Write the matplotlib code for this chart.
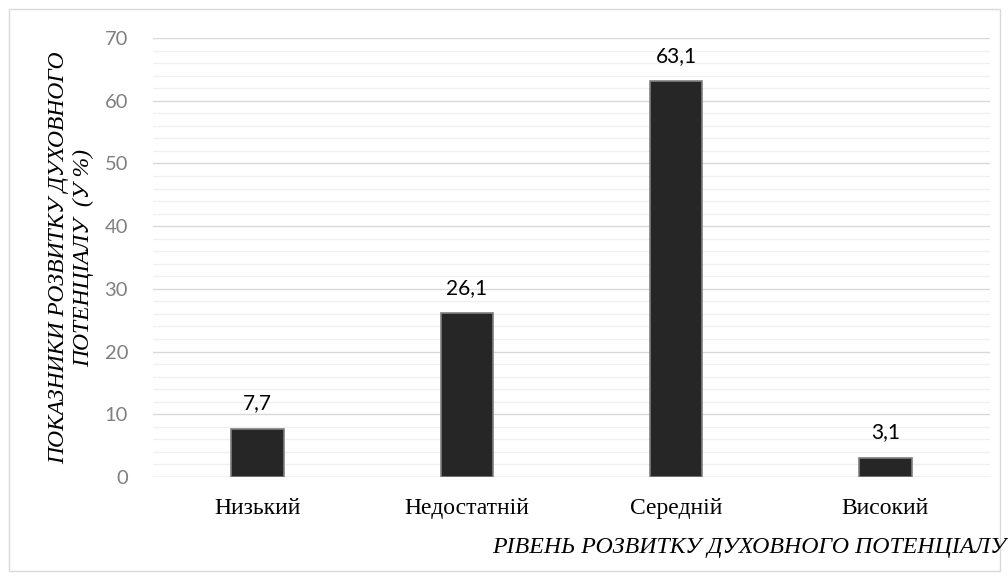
import matplotlib
matplotlib.use("Agg")
import matplotlib.pyplot as plt
from matplotlib.patches import Rectangle
from matplotlib.ticker import MultipleLocator

categories = ["Низький", "Недостатній", "Середній", "Високий"]
values = [7.7, 26.1, 63.1, 3.1]
labels = ["7,7", "26,1", "63,1", "3,1"]
yticks = [0, 10, 20, 30, 40, 50, 60, 70]

W, H = 1008, 580
fig = plt.figure(figsize=(W / 100, H / 100), dpi=100)
fig.patches.append(Rectangle((9 / W, 9 / H), 991 / W, 562 / H, transform=fig.transFigure,
                             fill=False, edgecolor="#d9d9d9", linewidth=1))

left, right = 153 / W, 990 / W
top, bottom = 1 - 38 / H, 1 - 477 / H
ax = fig.add_axes([left, bottom, right - left, top - bottom])

x = range(len(categories))
ax.bar(x, values, width=0.25, color="#262626", edgecolor="#7f7f7f", linewidth=1.2, zorder=3)
for xi, v, lab in zip(x, values, labels):
    ax.annotate(lab, (xi, v), xytext=(0, 11), textcoords="offset points",
                ha="center", va="bottom", fontsize=15, family="Lato", color="#000000")

ax.set_xlim(-0.5, len(categories) - 0.5)
ax.set_ylim(0, 70)
ax.set_yticks(yticks)
ax.yaxis.set_minor_locator(MultipleLocator(2))
ax.grid(which="major", axis="y", color="#d9d9d9", linewidth=1, zorder=0)
ax.grid(which="minor", axis="y", color="#f0f0f0", linewidth=1, zorder=0)
ax.set_xticks(list(x))
ax.set_xticklabels(categories, fontsize=17, family="Liberation Serif")
ax.tick_params(axis="x", length=0, pad=15)
ax.tick_params(axis="y", which="both", length=0, pad=18, labelsize=14.5, labelcolor="#808080")
for lab in ax.get_yticklabels():
    lab.set_family("Lato")
for s in ax.spines.values():
    s.set_visible(False)
ax.axhline(0, color="#d9d9d9", linewidth=1, zorder=2)

fig.text(71 / W, 1 - 258 / H, "ПОКАЗНИКИ РОЗВИТКУ ДУХОВНОГО\nПОТЕНЦІАЛУ  (У %)", rotation=90,
         ha="center", va="center", fontsize=17, family="Liberation Serif", style="italic",
         linespacing=1.25)
fig.text(1006 / W, 1 - 547 / H, "РІВЕНЬ РОЗВИТКУ ДУХОВНОГО ПОТЕНЦІАЛУ", ha="right", va="center",
         fontsize=17.2, family="Liberation Serif", style="italic")

fig.savefig("out.png", dpi=100)
